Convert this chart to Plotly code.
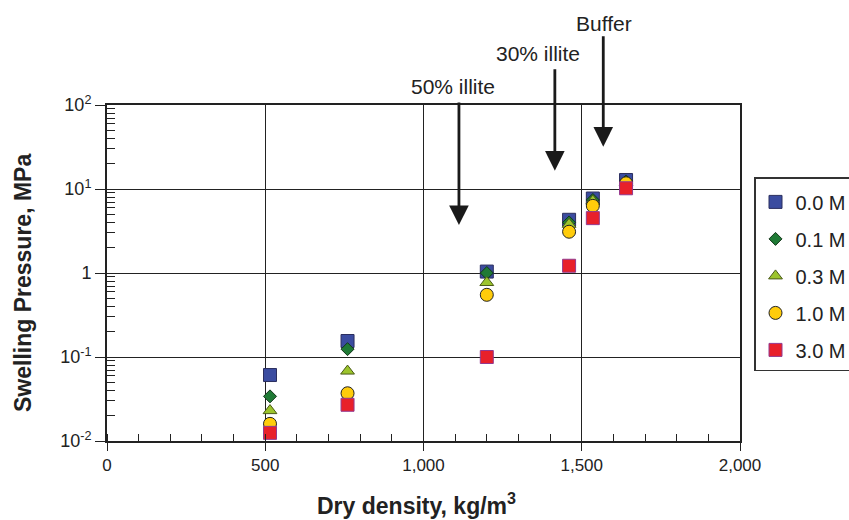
import plotly.graph_objects as go

# Dry density of the specimens (kg/m3)
density = [515, 760, 1200, 1460, 1535, 1640]

# Swelling pressure (MPa) for each pore-water salinity
p_00 = [0.061, 0.155, 1.04, 4.3, 7.7, 12.8]
p_01 = [0.034, 0.124, 1.0, 4.0, 7.4, 12.3]
p_03 = [0.023, 0.068, 0.77, 3.8, 7.2, 12.0]
p_10 = [0.016, 0.037, 0.55, 3.1, 6.3, 11.7]
p_30 = [0.0125, 0.027, 0.10, 1.22, 4.5, 10.2]

series_names = ["0.0 M", "0.1 M", "0.3 M", "1.0 M", "3.0 M"]

y_tickvals = [0.01, 0.1, 1, 10, 100]
y_ticktext = ["10<sup>-2</sup>", "10<sup>-1</sup>", "1", "10<sup>1</sup>", "10<sup>2</sup>"]
x_tickvals = [0, 500, 1000, 1500, 2000]
x_ticktext = ["0", "500", "1,000", "1,500", "2,000"]

styles = [
    dict(symbol="square", size=13, color="#3B4CA0", line=dict(color="#2B2E5E", width=1)),
    dict(symbol="diamond", size=10, color="#1F7A35", line=dict(color="#14361A", width=1)),
    dict(symbol="triangle-up", size=12, color="#9CC42C", line=dict(color="#4A5A18", width=1)),
    dict(symbol="circle", size=13, color="#FFCC0B", line=dict(color="#222222", width=1)),
    dict(symbol="square", size=13, color="#E8202A", line=dict(color="#93398F", width=1)),
]

FONT = "Liberation Sans, Arial, sans-serif"
INK = "#222222"

# plot area in pixels
L, R, T, B = 107, 740, 105, 441
W, H = R - L, B - T

fig = go.Figure()
for name, vals, st in zip(series_names, [p_00, p_01, p_03, p_10, p_30], styles):
    fig.add_trace(go.Scatter(
        x=density, y=vals, mode="markers", name=name,
        legendgroup=name, marker=st,
    ))

# minor tick positions: 2..9 within each decade
y_minor = [m * 10 ** e for e in range(-2, 2) for m in range(2, 10)]

fig.update_layout(
    width=849, height=520,
    margin=dict(l=L, r=849 - R, t=T, b=520 - B, autoexpand=False),
    paper_bgcolor="white", plot_bgcolor="white",
    font=dict(family=FONT, size=16, color=INK),
    showlegend=True,
    legend=dict(
        x=(754 - L) / W, y=(B - 177) / H, xanchor="left", yanchor="top",
        bordercolor="#333333", borderwidth=1.5, bgcolor="white",
        font=dict(size=20, family=FONT, color=INK),
        tracegroupgap=8, itemwidth=30,
        title=dict(text=" ", font=dict(size=3)),
    ),
)

fig.update_xaxes(
    range=[0, 2000], tickmode="array", tickvals=x_tickvals, ticktext=x_ticktext,
    ticks="outside", ticklen=8, tickwidth=1.2, tickcolor=INK,
    showline=True, linecolor=INK, linewidth=2, mirror=True,
    showgrid=True, gridcolor=INK, gridwidth=1,
    zeroline=False,
    minor=dict(tickmode="linear", tick0=0, dtick=100, ticks="inside", ticklen=7,
               tickcolor=INK, tickwidth=1.2, showgrid=False),
    tickfont=dict(size=17, family=FONT, color=INK),
)

fig.update_yaxes(
    type="log", range=[-2, 2], tickmode="array", tickvals=y_tickvals, ticktext=y_ticktext,
    ticks="outside", ticklen=10, tickwidth=1.2, tickcolor=INK,
    showline=True, linecolor=INK, linewidth=2, mirror=True,
    showgrid=True, gridcolor=INK, gridwidth=1,
    zeroline=False,
    minor=dict(tickmode="array", tickvals=y_minor, ticks="inside", ticklen=8,
               tickcolor=INK, tickwidth=1.2, showgrid=False),
    tickfont=dict(size=18, family=FONT, color=INK),
)

# axis titles
fig.add_annotation(
    x=(416 - L) / W, y=(B - 504) / H, xref="paper", yref="paper",
    text="<b>Dry density, kg/m<sup>3</sup></b>", showarrow=False,
    xanchor="center", yanchor="middle",
    font=dict(size=23, family=FONT, color=INK),
)
fig.add_annotation(
    x=(23 - L) / W, y=(B - 283) / H, xref="paper", yref="paper",
    text="<b>Swelling Pressure, MPa</b>", showarrow=False, textangle=-90,
    xanchor="center", yanchor="middle",
    font=dict(size=23, family=FONT, color=INK),
)

# Labels with downward arrows marking the material densities
labels = [
    dict(text="50% illite", tx=452.7, ty=87, ax=1112, ay=0.571, length=124),
    dict(text="30% illite", tx=538, ty=53, ax=1415, ay=1.218, length=103),
    dict(text="Buffer", tx=604, ty=23, ax=1568, ay=1.504, length=112),
]
for lb in labels:
    fig.add_annotation(
        x=lb["ax"], y=lb["ay"], xref="x", yref="y", text="",
        showarrow=True, arrowhead=2, arrowsize=1.4, arrowwidth=2.8,
        arrowcolor="#1a1a1a", ax=0, ay=-lb["length"], axref="pixel", ayref="pixel",
        standoff=0,
    )
    fig.add_annotation(
        x=(lb["tx"] - L) / W, y=(B - lb["ty"]) / H, xref="paper", yref="paper",
        text=lb["text"], showarrow=False, xanchor="center", yanchor="middle",
        font=dict(size=21, family=FONT, color=INK),
    )

fig.write_html("out.html")
